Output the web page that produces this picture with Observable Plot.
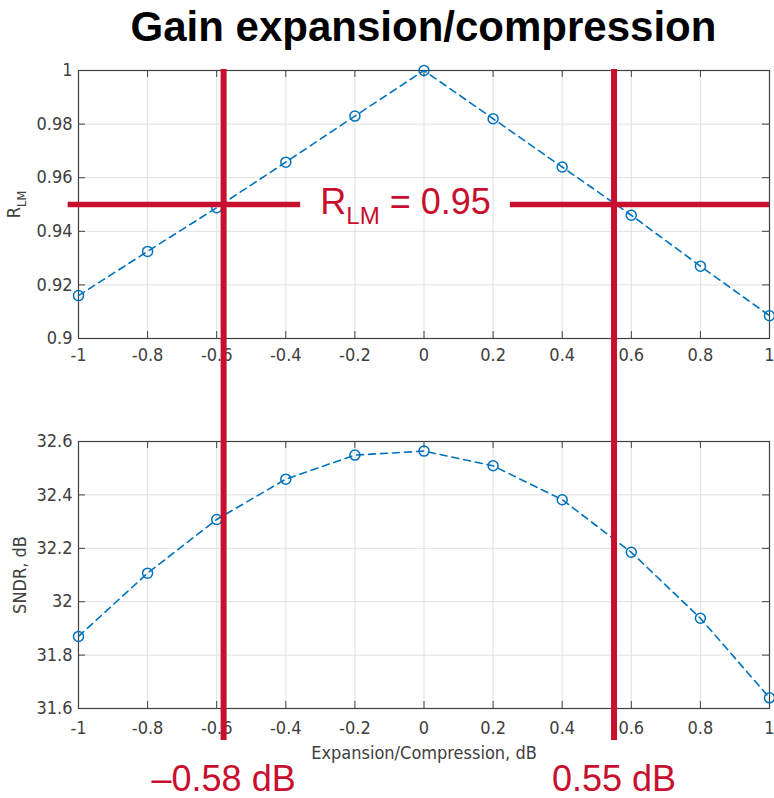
<!DOCTYPE html>
<html><head><meta charset="utf-8">
<script src="https://cdn.jsdelivr.net/npm/d3@7"></script>
<script src="https://cdn.jsdelivr.net/npm/@observablehq/plot@0.6"></script>
<style>
body{margin:0;background:#fff;}
#wrap{position:relative;width:774px;height:798px;overflow:hidden;background:#fff;}
#wrap svg{position:absolute;left:0;}
#title{position:absolute;left:78px;width:691px;top:6px;text-align:center;font:bold 42px "Liberation Sans",Arial,sans-serif;line-height:42px;color:#000;}
</style></head><body>
<div id="wrap"><div id="title">Gain expansion/compression</div></div>
<script>
// ---- data ----
const expansion = [-1, -0.8, -0.6, -0.4, -0.2, 0, 0.2, 0.4, 0.6, 0.8, 1];
const rlm = [0.916, 0.9325, 0.9488, 0.9658, 0.983, 1.0, 0.982, 0.964, 0.946, 0.927, 0.9085];
const sndr = [31.87, 32.107, 32.308, 32.459, 32.549, 32.564, 32.509, 32.382, 32.185, 31.938, 31.64];
const xTicks = [-1, -0.8, -0.6, -0.4, -0.2, 0, 0.2, 0.4, 0.6, 0.8, 1];
const rlmTicks = [0.9, 0.92, 0.94, 0.96, 0.98, 1];
const sndrTicks = [31.6, 31.8, 32, 32.2, 32.4, 32.6];
const rlmThreshold = 0.95;
const thresholdSegments = [[-1.03, -0.357], [0.25, 1]];
const crossings = [-0.58, 0.55];
const crossingLabels = ["\u20130.58 dB", "0.55 dB"];
const xLabel = "Expansion/Compression, dB";
const sndrLabel = "SNDR, dB";

// ---- styling ----
const W = 774, ML = 78, MR = 5;
const BLUE = "#0072BD", RED = "#C8102E", INK = "#404040", GRID = "#e0e0e0";
const FONT = '"DejaVu Sans Condensed","DejaVu Sans",sans-serif';
const RED_FONT = '"Liberation Sans",Arial,sans-serif';
const AX_FS = 18;
const fmt = d => String(d);

function panel({values, ticks, height, marginTop, marginBottom, yLabel, yLabelOffset, xPad, xAxisLabel, xLabelOffset, extra = []}) {
  const data = expansion.map((x, i) => ({x, y: values[i]}));
  const fw = W - ML - MR, fh = height - marginTop - marginBottom;
  return Plot.plot({
    width: W, height, marginLeft: ML, marginRight: MR, marginTop, marginBottom,
    style: {fontFamily: FONT, fontSize: AX_FS + "px", color: INK, background: "transparent", overflow: "visible"},
    x: {domain: [-1, 1]},
    y: {domain: [ticks[0], ticks[ticks.length - 1]]},
    marks: [
      Plot.gridX(xTicks, {stroke: GRID, strokeOpacity: 1}),
      Plot.gridY(ticks, {stroke: GRID, strokeOpacity: 1}),
      Plot.tickX(xTicks, {x: d => d, stroke: INK, insetTop: fh - 7}),
      Plot.tickX(xTicks, {x: d => d, stroke: INK, insetBottom: fh - 7}),
      Plot.tickY(ticks, {y: d => d, stroke: INK, insetRight: fw - 7}),
      Plot.tickY(ticks, {y: d => d, stroke: INK, insetLeft: fw - 7}),
      Plot.frame({stroke: INK, strokeWidth: 1.2}),
      Plot.axisX(xTicks, {tickSize: 0, tickPadding: xPad, tickFormat: fmt, fill: INK, fontSize: AX_FS,
        label: xAxisLabel, labelAnchor: "center", labelArrow: "none", labelOffset: xLabelOffset}),
      Plot.axisY(ticks, {tickSize: 0, tickPadding: 6, tickFormat: fmt, fill: INK, fontSize: AX_FS,
        label: yLabel, labelAnchor: "center", labelArrow: "none", labelOffset: yLabelOffset}),
      Plot.line(data, {x: "x", y: "y", stroke: BLUE, strokeWidth: 1.6, strokeDasharray: "7,5"}),
      Plot.dot(data, {x: "x", y: "y", r: 5, stroke: BLUE, strokeWidth: 1.5, fill: "none"}),
      ...extra
    ]
  });
}

const gapCenter = (thresholdSegments[0][1] + thresholdSegments[1][0]) / 2;

const topPanel = panel({
  values: rlm, ticks: rlmTicks, height: 365, marginTop: 70, marginBottom: 27,
  yLabel: "RLM", yLabelOffset: 71, xPad: 10, xAxisLabel: null,
  extra: [
    Plot.ruleY(thresholdSegments, {y: () => rlmThreshold, x1: d => d[0], x2: d => d[1], stroke: RED, strokeWidth: 5.5}),
    Plot.text([rlmThreshold], {x: () => gapCenter, y: d => d, text: () => "RLM = 0.95",
      fill: RED, fontSize: 36, fontFamily: RED_FONT, textAnchor: "middle", lineAnchor: "middle", dy: -2})
  ]
});

const bottomPanel = panel({
  values: sndr, ticks: sndrTicks, height: 418, marginTop: 61, marginBottom: 90,
  yLabel: sndrLabel, yLabelOffset: 65, xPad: 13, xAxisLabel: xLabel, xLabelOffset: 50
});

const overlayPanel = Plot.plot({
  width: W, height: 798, marginLeft: ML, marginRight: MR, marginTop: 69, marginBottom: 58,
  style: {background: "transparent", overflow: "visible"},
  x: {domain: [-1, 1], axis: null},
  marks: [
    Plot.ruleX(crossings, {stroke: RED, strokeWidth: 6}),
    Plot.text(crossings, {x: d => d, text: (d, i) => crossingLabels[i], frameAnchor: "bottom",
      lineAnchor: "bottom", dy: 50, fill: RED, fontSize: 36, fontFamily: RED_FONT})
  ]
});

// subscript helper: replaces "RLM..." text content with R + subscript LM
function subscriptify(textEl, ratio, shiftEm) {
  const full = textEl.textContent;
  if (!full.startsWith("RLM")) return;
  const rest = full.slice(3);
  const ns = "http://www.w3.org/2000/svg";
  while (textEl.firstChild) textEl.removeChild(textEl.firstChild);
  const t1 = document.createElementNS(ns, "tspan"); t1.textContent = "R";
  const t2 = document.createElementNS(ns, "tspan"); t2.textContent = "LM";
  t2.setAttribute("font-size", ratio + "em"); t2.setAttribute("dy", shiftEm + "em");
  textEl.appendChild(t1); textEl.appendChild(t2);
  if (rest) {
    const t3 = document.createElementNS(ns, "tspan"); t3.textContent = rest;
    t3.setAttribute("dy", (-shiftEm * ratio) + "em");
    textEl.appendChild(t3);
  }
}
topPanel.querySelectorAll("text").forEach(t => {
  if (t.textContent === "RLM") subscriptify(t, 0.7, 0.45);
  else if (t.textContent === "RLM = 0.95") subscriptify(t, 0.67, 0.4);
});

const wrap = document.getElementById("wrap");
topPanel.style.top = "0px";
bottomPanel.style.top = "380px";
overlayPanel.style.top = "0px";
wrap.appendChild(topPanel);
wrap.appendChild(bottomPanel);
wrap.appendChild(overlayPanel);
</script>
</body></html>
